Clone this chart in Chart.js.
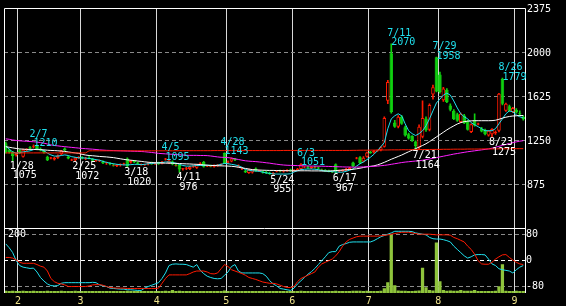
<!DOCTYPE html>
<html>
<head>
<meta charset="utf-8">
<script src="https://cdn.jsdelivr.net/npm/chart.js@4/dist/chart.umd.min.js"></script>
<style>
  html, body { margin: 0; padding: 0; background: #000; }
  canvas { display: block; }
</style>
</head>
<body>
<canvas id="c" width="566" height="306"></canvas>
<script>
// trading days, 2022-01-26 .. 2022-09-05
const days = [
  '1/26','1/27','1/28','1/31',
  '2/1','2/2','2/3','2/4','2/7','2/8','2/9','2/10','2/14','2/15','2/16','2/17','2/18','2/21','2/22','2/24','2/25','2/28',
  '3/1','3/2','3/3','3/4','3/7','3/8','3/9','3/10','3/11','3/14','3/15','3/16','3/17','3/18','3/22','3/23','3/24','3/25','3/28','3/29','3/30','3/31',
  '4/1','4/4','4/5','4/6','4/7','4/8','4/11','4/12','4/13','4/14','4/15','4/18','4/19','4/20','4/21','4/22','4/25','4/26','4/27','4/28',
  '5/2','5/6','5/9','5/10','5/11','5/12','5/13','5/16','5/17','5/18','5/19','5/20','5/23','5/24','5/25','5/26','5/27','5/30','5/31',
  '6/1','6/2','6/3','6/6','6/7','6/8','6/9','6/10','6/13','6/14','6/15','6/16','6/17','6/20','6/21','6/22','6/23','6/24','6/27','6/28','6/29','6/30',
  '7/1','7/4','7/5','7/6','7/7','7/8','7/11','7/12','7/13','7/14','7/15','7/19','7/20','7/21','7/22','7/25','7/26','7/27','7/28','7/29',
  '8/1','8/2','8/3','8/4','8/5','8/8','8/9','8/10','8/12','8/15','8/16','8/17','8/18','8/19','8/22','8/23','8/24','8/25','8/26','8/29','8/30','8/31',
  '9/1','9/2','9/5'
];

const opens = [
  1225,1170,1150,1125,1165,1110,1170,1190,1195,1200,
  1175,1160,1110,1098,1085,1100,1130,1180,1110,1080,
  1080,1100,1105,1095,1100,1090,1075,1075,1070,1055,
  1055,1040,1030,1040,1045,1095,1060,1075,1060,1040,
  1040,1045,1055,1050,1058,1050,1088,1055,1070,1040,
  1040,1005,1008,1005,1025,1015,1045,1065,1030,1030,
  1025,1035,1040,1143,1060,1070,1090,1030,1005,990,
  972,975,1010,990,985,978,972,965,985,990,
  985,990,1000,990,995,1005,1020,1022,1015,1020,
  1018,1000,995,990,985,1045,985,990,995,1005,
  1060,1095,1105,1070,1110,1150,1145,1160,1165,1195,
  1585,1990,1400,1365,1450,1360,1300,1285,1240,1185,
  1280,1435,1340,1640,1955,1810,1590,1680,1545,1500,
  1470,1405,1460,1410,1320,1420,1385,1350,1340,1290,
  1300,1310,1330,1770,1500,1540,1490,1510,1480,1450
];
const highs = [
  1235,1175,1155,1140,1170,1175,1178,1195,1210,1205,
  1185,1165,1115,1105,1105,1125,1165,1185,1115,1090,
  1105,1110,1110,1105,1110,1095,1080,1082,1075,1065,
  1060,1050,1045,1050,1055,1100,1080,1080,1065,1050,
  1048,1060,1065,1062,1065,1070,1095,1082,1075,1050,
  1045,1010,1020,1030,1035,1045,1060,1070,1035,1038,
  1040,1045,1050,1143,1075,1100,1095,1040,1010,995,
  1005,1000,1015,995,990,985,978,975,992,995,
  995,1000,1005,1000,1010,1051,1025,1030,1025,1028,
  1022,1005,1000,995,990,1050,995,1000,1010,1020,
  1065,1105,1110,1110,1150,1155,1165,1168,1195,1450,
  1760,2070,1420,1460,1460,1370,1310,1290,1245,1380,
  1585,1450,1560,1720,1958,1830,1700,1690,1560,1510,
  1480,1480,1470,1420,1390,1475,1395,1360,1345,1335,
  1350,1330,1650,1779,1565,1550,1530,1520,1500,1460
];
const lows = [
  1140,1140,1075,1115,1135,1105,1160,1175,1185,1170,
  1160,1140,1075,1090,1080,1095,1125,1160,1090,1075,
  1072,1095,1090,1085,1090,1070,1070,1068,1050,1045,
  1040,1030,1025,1030,1040,1020,1055,1060,1045,1038,
  1035,1040,1045,1045,1045,1048,1080,1050,1040,1030,
  976,995,1000,1000,1018,1010,1038,1020,1025,1022,
  1020,1028,1035,1050,1050,1065,1075,1020,1000,975,
  968,970,985,985,970,965,958,955,980,980,
  978,985,985,985,990,1000,1015,1010,1008,1012,
  1005,990,985,980,975,967,978,985,990,1000,
  1025,1090,1050,1065,1105,1138,1140,1155,1160,1190,
  1560,1480,1360,1355,1385,1285,1260,1240,1164,1175,
  1270,1325,1330,1600,1660,1650,1580,1570,1500,1425,
  1410,1400,1390,1335,1315,1370,1380,1320,1295,1285,
  1275,1300,1320,1550,1495,1495,1485,1480,1460,1420
];
const closes = [
  1145,1150,1115,1132,1140,1170,1172,1180,1200,1175,
  1165,1145,1080,1100,1100,1120,1160,1165,1095,1083,
  1100,1105,1095,1100,1092,1075,1078,1077,1055,1060,
  1045,1035,1040,1045,1050,1030,1075,1065,1050,1043,
  1045,1055,1050,1058,1050,1065,1091,1078,1045,1035,
  1000,1008,1015,1025,1030,1040,1050,1025,1032,1028,
  1035,1040,1045,1055,1068,1095,1080,1032,1007,978,
  1000,998,990,992,975,970,962,970,990,985,
  990,995,990,995,1005,1045,1022,1015,1020,1018,
  1010,995,988,982,980,985,990,995,1005,1015,
  1030,1100,1055,1100,1145,1140,1160,1162,1190,1440,
  1745,1490,1365,1450,1390,1290,1265,1245,1200,1365,
  1440,1335,1550,1700,1665,1660,1690,1575,1510,1430,
  1415,1475,1395,1340,1385,1375,1390,1325,1300,1330,
  1345,1320,1645,1560,1560,1500,1525,1485,1470,1430
];

// moving averages (cyan 5d, white 25d, magenta 75d, red long)
const ma5 = [
  1200,1175,1150,1140,1145,1150,1155,1160,1170,1175,
  1170,1160,1140,1125,1115,1115,1120,1125,1120,1110,
  1105,1100,1100,1098,1095,1090,1085,1080,1070,1062,
  1055,1050,1045,1042,1040,1040,1042,1045,1045,1042,
  1045,1050,1052,1055,1058,1060,1065,1065,1060,1055,
  1045,1035,1030,1030,1032,1035,1035,1035,1037,1035,
  1035,1038,1045,1053,1050,1045,1040,1032,1020,1000,
  995,990,988,985,978,972,968,963,962,962,
  962,962,965,980,990,1000,1003,1005,1005,1003,
  1000,992,988,985,983,980,978,978,985,995,
  1005,1030,1050,1065,1085,1105,1130,1160,1195,1230,
  1348,1432,1458,1475,1458,1390,1331,1306,1290,1306,
  1331,1373,1432,1500,1567,1600,1634,1651,1634,1584,
  1525,1475,1449,1432,1399,1382,1365,1348,1331,1331,
  1331,1348,1390,1432,1475,1500,1491,1466,1449,1440
];
const ma25 = [
  1195,1190,1185,1180,1176,1174,1172,1172,1172,1170,
  1170,1168,1165,1163,1162,1160,1158,1155,1150,1146,
  1142,1138,1130,1124,1120,1118,1115,1112,1110,1108,
  1105,1102,1097,1092,1087,1083,1080,1077,1073,1070,
  1066,1063,1060,1058,1057,1056,1055,1055,1054,1053,
  1052,1050,1049,1048,1046,1045,1043,1040,1038,1036,
  1035,1033,1032,1031,1030,1028,1025,1020,1015,1010,
  1005,1000,998,996,995,994,993,993,992,992,
  991,991,990,990,990,990,990,990,989,989,
  989,988,988,988,990,992,994,996,998,1000,
  1003,1007,1012,1018,1024,1028,1032,1040,1050,1062,
  1075,1088,1100,1112,1124,1138,1152,1165,1178,1192,
  1205,1220,1238,1258,1278,1298,1318,1338,1356,1372,
  1388,1400,1408,1412,1415,1416,1416,1416,1416,1416,
  1417,1420,1428,1438,1446,1452,1456,1458,1460,1460
];
const ma75 = [
  1262,1258,1252,1248,1245,1243,1241,1239,1237,1234,
  1230,1225,1218,1210,1205,1202,1198,1195,1192,1189,
  1186,1183,1180,1178,1176,1174,1171,1168,1166,1164,
  1163,1162,1161,1160,1159,1158,1157,1156,1155,1154,
  1152,1149,1146,1142,1138,1136,1134,1132,1130,1128,
  1126,1124,1122,1121,1121,1121,1120,1120,1119,1116,
  1112,1108,1105,1104,1102,1098,1092,1086,1080,1075,
  1072,1070,1068,1065,1062,1058,1055,1050,1046,1042,
  1039,1037,1036,1035,1034,1033,1032,1031,1030,1030,
  1029,1029,1028,1027,1026,1025,1024,1023,1022,1022,
  1021,1021,1022,1023,1024,1026,1028,1030,1033,1036,
  1040,1045,1050,1055,1060,1064,1067,1070,1073,1076,
  1080,1085,1090,1096,1102,1108,1114,1120,1126,1132,
  1137,1142,1147,1152,1156,1160,1164,1168,1172,1176,
  1182,1190,1198,1206,1214,1222,1230,1236,1242,1246
];
const maLong = [
  1142,1142,1142,1142,1142,1142,1142,1142,1142,1142,
  1142,1142,1142,1142,1142,1142,1142,1142,1142,1142,
  1142,1142,1142,1142,1160,1160,1160,1160,1160,1160,
  1160,1160,1160,1160,1160,1160,1160,1160,1160,1160,
  1160,1160,1160,1160,1160,1160,1160,1160,1160,1160,
  1161,1161,1161,1161,1161,1161,1161,1161,1161,1161,
  1162,1162,1162,1162,1162,1162,1162,1162,1162,1162,
  1162,1162,1162,1162,1162,1162,1162,1162,1162,1162,
  1163,1163,1163,1163,1163,1163,1163,1163,1163,1163,
  1163,1163,1163,1163,1163,1163,1163,1163,1163,1163,
  1164,1164,1165,1165,1165,1166,1166,1166,1167,1167,
  1167,1168,1168,1168,1169,1169,1169,1170,1170,1170,
  1171,1171,1171,1172,1172,1172,1173,1173,1173,1174,
  1174,1174,1174,1175,1175,1175,1175,1176,1176,1176,
  1176,1176,1177,1177,1177,1177,1178,1178,1178,1178
];

// lower panel: volume (scale 0-200) and two oscillators (-100..100)
const volume = [
  6,5,6,5,5,6,5,5,6,5,
  5,5,6,5,5,5,6,5,5,5,
  6,5,5,5,5,5,5,5,5,5,
  5,5,5,5,5,6,5,5,5,5,
  5,5,5,5,5,5,6,5,8,5,
  6,5,5,5,5,5,5,5,5,5,
  5,5,5,7,5,5,5,5,5,5,
  5,5,5,5,5,5,5,5,5,5,
  5,5,5,5,5,6,5,5,5,5,
  5,5,5,5,5,6,5,5,5,5,
  6,6,6,5,6,5,5,5,6,14,
  32,179,23,7,6,6,5,5,6,7,
  77,17,8,7,155,35,8,6,7,6,
  6,8,6,6,6,8,5,5,5,5,
  5,6,20,88,6,5,5,6,5,5
];
const oscCyan = [
  52,40,25,0,-15,-20,-22,-24,-23,-35,
  -52,-63,-72,-77,-78,-77,-70,-68,-68,-68,
  -68,-68,-68,-68,-68,-67,-68,-75,-78,-80,
  -85,-86,-87,-88,-88,-90,-90,-91,-92,-92,
  -85,-80,-76,-72,-68,-55,-38,-15,-11,-10,
  -11,-11,-12,-16,-20,-12,-30,-40,-48,-52,
  -55,-56,-55,-45,-35,-18,-12,-32,-38,-38,
  -38,-38,-38,-38,-40,-48,-62,-72,-78,-86,
  -88,-90,-92,-85,-72,-62,-52,-42,-34,-24,
  -12,0,12,25,28,28,45,50,53,57,
  58,58,58,58,58,58,62,68,74,78,
  82,86,91,91,91,91,91,90,86,84,
  82,80,72,68,67,67,65,62,58,45,
  35,25,15,8,12,18,19,19,18,5,
  -10,-15,-25,-28,-30,-32,-38,-28,-20,-15
];
const oscRed = [
  10,10,8,2,-5,-8,-8,-8,-8,-12,
  -17,-20,-32,-55,-65,-70,-72,-75,-80,-80,
  -80,-80,-80,-80,-78,-75,-74,-74,-76,-80,
  -83,-84,-85,-85,-85,-86,-86,-86,-86,-86,
  -86,-86,-86,-86,-85,-70,-55,-44,-44,-44,
  -44,-44,-44,-40,-35,-32,-32,-32,-35,-40,
  -41,-38,-25,-12,-18,-28,-32,-36,-40,-45,
  -52,-55,-58,-62,-66,-68,-70,-70,-72,-76,
  -80,-83,-83,-80,-65,-55,-50,-45,-40,-35,
  -20,-10,-5,0,5,15,28,45,58,66,
  70,74,76,76,76,76,76,76,77,78,
  80,82,84,86,88,88,88,86,84,82,
  82,82,82,81,80,80,80,80,79,72,
  68,63,58,45,35,20,0,-10,-11,-11,
  -5,5,12,18,19,10,2,-5,-10,-12
];

// marked highs / lows
const hiDates = ['2/7','4/5','4/28','6/3','7/11','7/29','8/26'];
const hiVals = [1210, 1095, 1143, 1051, 2070, 1958, 1779];
const loDates = ['1/28','2/25','3/18','4/11','5/24','6/17','7/21','8/23'];
const loVals = [1075, 1072, 1020, 976, 955, 967, 1164, 1275];

const RED = '#ff1a00', GREEN = '#10d010', CYAN = '#20e0ee', GRID = '#8a8a8a';
const FONT = { family: '"DejaVu Sans Mono", monospace', size: 10 };

const up = closes.map((c, i) => c >= opens[i]);
const isDoji = opens.map((o, i) => Math.abs(closes[i] - o) < 6);
const body = opens.map((o, i) => {
  const c = closes[i];
  if (isDoji[i]) return [(o + c) / 2 - 4, (o + c) / 2 + 4];
  return [o, c];
});

const monthStart = i => i > 0 && days[i].split('/')[0] !== days[i - 1].split('/')[0];

const frame = {
  id: 'frame',
  afterDatasetsDraw(chart) {
    const { ctx, chartArea: a, scales } = chart;
    const sep = scales.y2.top;
    ctx.save();
    ctx.strokeStyle = '#ffffff';
    ctx.lineWidth = 1;
    ctx.beginPath();
    ctx.moveTo(a.left + 0.5, a.bottom);
    ctx.lineTo(a.left + 0.5, a.top + 0.5);
    ctx.lineTo(a.right + 0.5, a.top + 0.5);
    ctx.lineTo(a.right + 0.5, a.bottom);
    ctx.moveTo(a.left, Math.round(sep) + 0.5);
    ctx.lineTo(a.right, Math.round(sep) + 0.5);
    ctx.stroke();
    ctx.fillStyle = '#ffffff';
    ctx.font = '10px "DejaVu Sans Mono"';
    ctx.textBaseline = 'alphabetic';
    ctx.fillText('200', a.left + 4, sep + 9);
    ctx.restore();
  }
};

const peakLabels = {
  id: 'peakLabels',
  afterDatasetsDraw(chart) {
    const { ctx, scales: { x, y } } = chart;
    ctx.save();
    ctx.font = '10px "DejaVu Sans Mono"';
    ctx.textBaseline = 'alphabetic';
    ctx.fillStyle = CYAN;
    hiDates.forEach((d, k) => {
      const px = x.getPixelForValue(days.indexOf(d));
      const py = y.getPixelForValue(hiVals[k]);
      ctx.fillText(d, px - 4, py - 8);
      ctx.fillText(String(hiVals[k]), px, py + 1.5);
    });
    ctx.fillStyle = '#ffffff';
    loDates.forEach((d, k) => {
      const px = x.getPixelForValue(days.indexOf(d));
      const py = y.getPixelForValue(loVals[k]);
      ctx.fillText(d, px - 3, py + 8);
      ctx.fillText(String(loVals[k]), px, py + 17.5);
    });
    ctx.restore();
  }
};

const line = (data, color, axis) => ({
  type: 'line', data, yAxisID: axis, borderColor: color, borderWidth: 1,
  pointRadius: 0, tension: 0, order: 1
});

new Chart(document.getElementById('c'), {
  data: {
    labels: days,
    datasets: [
      line(maLong, RED, 'y'),
      line(ma75, '#ff20ff', 'y'),
      line(ma25, '#ffffff', 'y'),
      line(ma5, CYAN, 'y'),
      line(oscRed, RED, 'y2'),
      line(oscCyan, CYAN, 'y2'),
      {
        type: 'bar', data: body, yAxisID: 'y', order: 2, grouped: false,
        barThickness: 3.6, borderWidth: 1, borderSkipped: false, inflateAmount: 0,
        backgroundColor: up.map((u, i) => isDoji[i] ? RED : (u ? '#000000' : GREEN)),
        borderColor: up.map((u, i) => isDoji[i] ? RED : (u ? RED : GREEN))
      },
      {
        type: 'bar', data: lows.map((l, i) => [l, highs[i]]), yAxisID: 'y', order: 3,
        grouped: false, barThickness: 1,
        backgroundColor: up.map(u => u ? RED : GREEN)
      },
      {
        type: 'bar', data: volume.map(v => [-100, -100 + v]), yAxisID: 'y2', order: 4,
        grouped: false, barThickness: 2.6, backgroundColor: '#8fc43c'
      }
    ]
  },
  options: {
    responsive: false,
    animation: false,
    layout: { padding: { left: 4, top: 2, right: 0, bottom: 0 } },
    plugins: { legend: { display: false }, tooltip: { enabled: false } },
    scales: {
      x: {
        type: 'category',
        offset: true,
        grid: {
          offset: true, drawTicks: false, lineWidth: 1,
          color: c => (c.index !== undefined && monthStart(c.index)) ? '#d8d8d8' : 'rgba(0,0,0,0)'
        },
        border: { display: false },
        ticks: {
          autoSkip: false, maxRotation: 0, padding: 2, labelOffset: -1.7,
          color: '#eee28a', font: FONT,
          callback: (v, i) => monthStart(i) ? days[i].split('/')[0] : ''
        },
        afterFit: s => { s.height = 13; }
      },
      y: {
        type: 'linear', position: 'right', stack: 'panes', stackWeight: 3.41,
        min: 500, max: 2375,
        grid: {
          drawTicks: false,
          color: c => (c.tick && (c.tick.value === 500 || c.tick.value === 2375)) ? 'rgba(0,0,0,0)' : GRID
        },
        border: { display: false, dash: [4, 3] },
        ticks: {
          stepSize: 375, padding: 2, labelOffset: 1.5, color: '#ffffff', font: FONT,
          callback: v => v === 500 ? '' : String(v)
        },
        afterFit: s => { s.width = 41; }
      },
      y2: {
        type: 'linear', position: 'right', stack: 'panes', stackWeight: 1,
        min: -100, max: 100,
        grid: {
          drawTicks: false,
          color: c => (c.tick && c.tick.value === 0) ? '#ffffff' : GRID
        },
        border: { display: false, dash: [4, 3] },
        ticks: { padding: 1, color: '#ffffff', font: FONT },
        afterBuildTicks: s => { s.ticks = [-80, -50, 0, 50, 80].map(v => ({ value: v })); },
        afterFit: s => { s.width = 41; }
      }
    }
  },
  plugins: [frame, peakLabels]
});
</script>
</body>
</html>
